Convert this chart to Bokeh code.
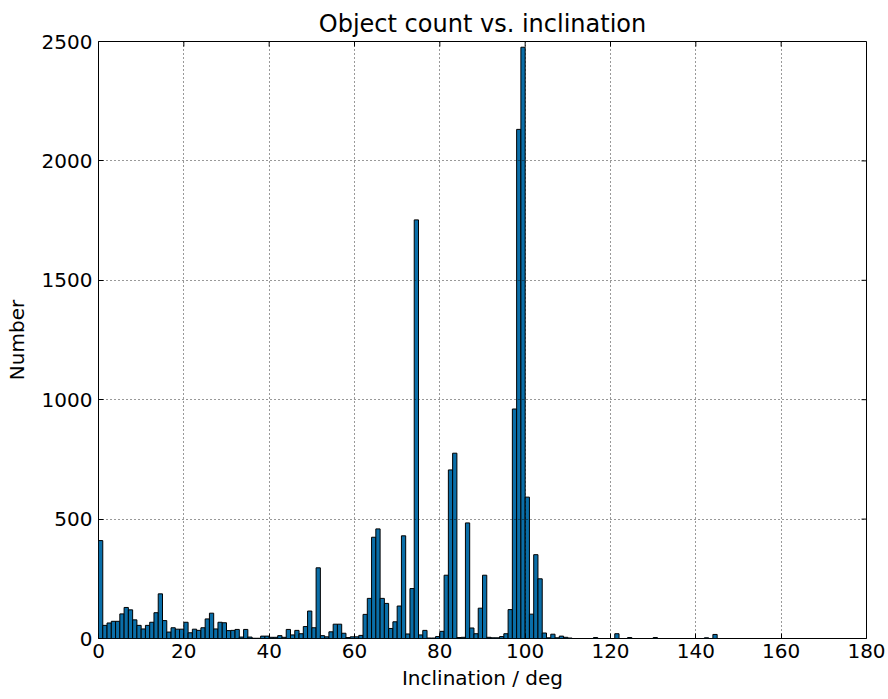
from bokeh.plotting import figure
from bokeh.models import SingleIntervalTicker
from bokeh.embed import file_html
from bokeh.resources import INLINE

# Histogram of catalogued objects per 1-degree inclination bin
bin_width = 1.0
counts = [
    410, 55, 65, 72, 72, 103, 130, 120, 78, 55,
    40, 55, 68, 108, 187, 75, 27, 45, 39, 39,
    68, 24, 39, 34, 45, 82, 106, 40, 68, 66,
    33, 34, 38, 6, 38, 6, 1, 1, 10, 10,
    5, 5, 12, 5, 38, 15, 34, 20, 50, 115,
    45, 296, 12, 7, 28, 60, 60, 22, 4, 7,
    7, 13, 101, 168, 424, 459, 168, 147, 42, 70,
    136, 430, 19, 209, 1753, 15, 34, 2, 2, 8,
    30, 265, 706, 776, 4, 5, 484, 44, 20, 127,
    265, 5, 3, 3, 8, 20, 121, 961, 2132, 2476,
    592, 102, 351, 250, 23, 3, 18, 3, 10, 5,
    2, 0, 0, 0, 0, 0, 4, 0, 0, 0,
    0, 20, 0, 0, 4, 0, 0, 0, 0, 0,
    4, 0, 0, 0, 0, 0, 0, 0, 0, 0,
    0, 0, 3, 0, 17,
]
x_ticks = [0, 20, 40, 60, 80, 100, 120, 140, 160, 180]
y_ticks = [0, 500, 1000, 1500, 2000, 2500]

X_MIN, X_MAX = 0, 180
Y_MIN, Y_MAX = 0, 2500

left_edges = [i * bin_width for i in range(len(counts))]
right_edges = [e + bin_width for e in left_edges]

FONT = "DejaVu Sans"
W, H = 888, 699
BORDER_L, BORDER_R, BORDER_T, BORDER_B = 98, 22, 41, 61
TICK_PX = 5

p = figure(
    width=W, height=H,
    x_range=(X_MIN, X_MAX), y_range=(Y_MIN, Y_MAX),
    output_backend="svg", toolbar_location=None,
    title="Object count vs. inclination",
)
p.min_border_left = BORDER_L
p.min_border_right = BORDER_R
p.min_border_top = BORDER_T
p.min_border_bottom = BORDER_B
p.background_fill_color = "white"
p.border_fill_color = "white"
p.outline_line_color = "black"
p.outline_line_width = 1

p.title.text_font = FONT
p.title.text_font_size = "24px"
p.title.text_font_style = "normal"
p.title.text_color = "black"
p.title.align = "center"
p.title.standoff = 7

p.quad(left=left_edges, right=right_edges, bottom=0, top=counts,
       fill_color="#0a6ea8", line_color="black", line_width=1)

xt = SingleIntervalTicker(interval=20, num_minor_ticks=0)
yt = SingleIntervalTicker(interval=500, num_minor_ticks=0)

for ax in (p.xaxis[0], p.yaxis[0]):
    ax.major_tick_in = TICK_PX
    ax.major_tick_out = 0
    ax.minor_tick_in = 0
    ax.minor_tick_out = 0
    ax.major_tick_line_color = "black"
    ax.axis_line_color = None
    ax.major_label_text_font = FONT
    ax.major_label_text_font_size = "20px"
    ax.major_label_text_color = "black"
    ax.axis_label_text_font = FONT
    ax.axis_label_text_font_size = "20px"
    ax.axis_label_text_font_style = "normal"
    ax.axis_label_text_color = "black"

p.xaxis.ticker = xt
p.yaxis.ticker = yt
p.xaxis.axis_label = "Inclination / deg"
p.yaxis.axis_label = "Number"
p.xaxis.major_label_standoff = 5
p.xaxis.axis_label_standoff = 5
p.yaxis.major_label_standoff = 6
p.yaxis.axis_label_standoff = 10

# inward tick marks along the top and right edges of the frame
frame_w = W - BORDER_L - BORDER_R
frame_h = H - BORDER_T - BORDER_B
dx = (X_MAX - X_MIN) / frame_w * TICK_PX
dy = (Y_MAX - Y_MIN) / frame_h * TICK_PX
p.segment(x0=x_ticks, x1=x_ticks, y0=[Y_MAX] * len(x_ticks),
          y1=[Y_MAX - dy] * len(x_ticks), line_color="black", line_width=1)
p.segment(x0=[X_MAX] * len(y_ticks), x1=[X_MAX - dx] * len(y_ticks),
          y0=y_ticks, y1=y_ticks, line_color="black", line_width=1)

for g in (p.xgrid[0], p.ygrid[0]):
    g.grid_line_color = "black"
    g.grid_line_dash = "1 3"
    g.grid_line_width = 1
    g.grid_line_alpha = 0.8
    g.level = "overlay"
p.xgrid.ticker = xt
p.ygrid.ticker = yt

open("out.html", "w").write(file_html(p, INLINE))
